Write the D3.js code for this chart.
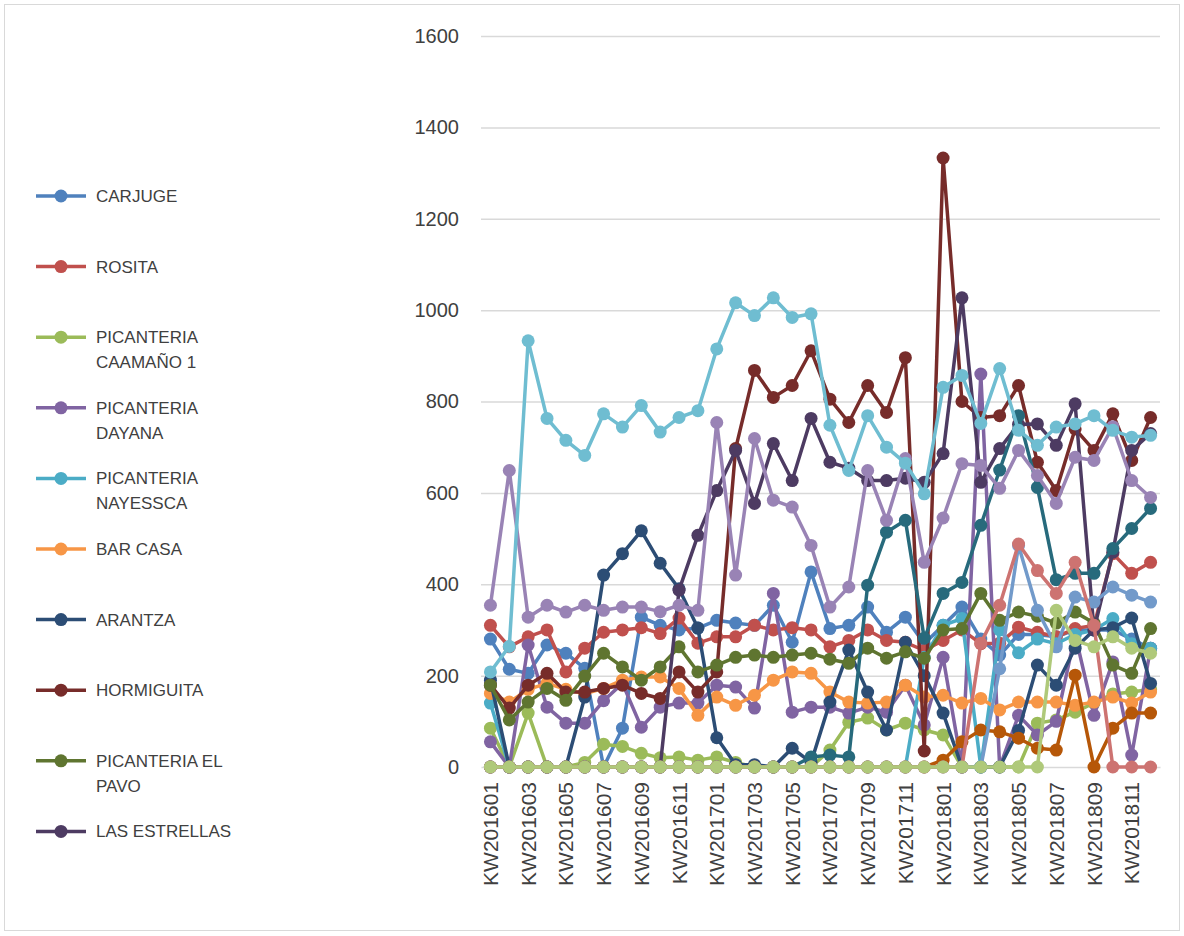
<!DOCTYPE html>
<html>
<head>
<meta charset="utf-8">
<script src="https://cdn.jsdelivr.net/npm/d3@7"></script>
<style>
  html, body { margin: 0; padding: 0; background: #fff; }
  svg { display: block; }
  text { font-family: "Liberation Sans", Arial, sans-serif; fill: #404040; }
</style>
</head>
<body>
<svg id="chart" width="1184" height="936"></svg>
<script>
// Monthly periods (KW + yyyymm)
const periods = [
  "KW201601","KW201602","KW201603","KW201604","KW201605","KW201606",
  "KW201607","KW201608","KW201609","KW201610","KW201611","KW201612",
  "KW201701","KW201702","KW201703","KW201704","KW201705","KW201706",
  "KW201707","KW201708","KW201709","KW201710","KW201711","KW201712",
  "KW201801","KW201802","KW201803","KW201804","KW201805","KW201806",
  "KW201807","KW201808","KW201809","KW201810","KW201811","KW201812"
];
const yTicks = [0, 200, 400, 600, 800, 1000, 1200, 1400, 1600];

// Legend names (in series order)
const legendNames = [
  ["CARJUGE"], ["ROSITA"], ["PICANTERIA", "CAAMAÑO 1"], ["PICANTERIA", "DAYANA"],
  ["PICANTERIA", "NAYESSCA"], ["BAR CASA"], ["ARANTZA"], ["HORMIGUITA"],
  ["PICANTERIA EL", "PAVO"], ["LAS ESTRELLAS"]
];

// Series values
const carjuge      = [280,214,205,267,249,216,0,85,328,310,300,304,321,315,310,354,273,427,303,310,350,295,328,270,310,350,280,245,290,290,285,300,300,300,280,260];
const rosita       = [310,263,285,300,208,260,295,300,305,292,326,271,285,285,310,300,305,300,263,277,300,277,273,255,277,300,270,271,306,295,285,303,310,467,424,448];
const caamano1     = [85,0,118,0,0,10,50,45,30,20,22,15,22,10,0,0,0,0,37,98,107,81,96,81,70,0,0,0,0,96,103,120,140,160,164,170];
const dayana       = [55,0,267,131,96,96,145,183,87,131,140,140,179,175,129,380,120,131,131,118,131,120,179,92,240,0,860,0,113,70,100,290,113,230,26,260];
const nayessca     = [140,0,0,0,0,0,0,0,0,0,0,0,0,0,0,0,0,0,0,0,0,0,0,240,310,325,0,300,250,280,270,290,300,325,270,260];
const barCasa      = [161,142,170,183,170,160,172,190,197,197,172,113,153,135,157,190,208,205,164,142,140,142,179,153,157,140,150,125,142,142,142,135,142,153,140,164];
const arantza      = [190,0,0,0,0,153,420,467,517,446,390,304,64,5,5,0,41,10,142,256,164,81,273,200,118,0,0,0,80,223,179,260,300,305,326,183];
const hormiguita   = [179,129,179,205,164,164,172,179,161,150,208,164,208,697,868,809,835,911,805,754,835,776,896,35,1333,800,765,769,835,667,605,740,693,773,671,765];
const elPavo       = [179,103,142,172,146,199,249,219,190,219,263,208,223,240,245,240,245,249,236,227,260,238,252,238,300,303,380,321,339,330,315,339,315,223,205,303];
const lasEstrellas = [0,0,0,0,0,0,0,0,0,0,387,507,605,693,577,708,627,763,667,654,627,627,632,623,686,1027,623,697,750,751,704,795,300,470,693,730];
const serie11      = [0,0,0,0,0,0,0,0,0,0,0,0,0,0,0,0,0,22,26,22,398,514,540,282,380,404,529,650,769,612,410,424,424,478,522,566];
const serie12      = [0,0,0,0,0,0,0,0,0,0,0,0,0,0,0,0,0,0,0,0,0,0,0,0,15,55,81,77,63,41,37,201,0,85,118,118];
const serie13      = [0,0,0,0,0,0,0,0,0,0,0,0,0,0,0,0,0,0,0,0,0,0,0,0,0,0,0,215,485,343,263,372,361,394,376,361];
const serie14      = [0,0,0,0,0,0,0,0,0,0,0,0,0,0,0,0,0,0,0,0,0,0,0,0,0,0,271,354,488,430,380,448,310,0,0,0];
const serie15      = [0,0,0,0,0,0,0,0,0,0,0,0,0,0,0,0,0,0,0,0,0,0,0,0,0,0,0,0,0,0,343,277,263,285,260,249];
const serie16      = [354,649,328,354,339,354,343,350,350,340,354,343,754,420,719,584,569,485,350,394,649,540,675,448,545,664,660,610,693,638,577,678,671,745,627,590];
const serie17      = [208,264,933,763,715,682,773,744,791,733,765,780,915,1016,988,1027,984,992,748,649,769,700,665,598,831,857,752,872,737,704,744,751,769,737,722,726];

const palette = ["#4F81BD","#C0504D","#9BBB59","#8064A2","#4BACC6","#F79646",
                 "#2C4D75","#772C2A","#5F7530","#4D3B62","#276A7C","#B65708",
                 "#729ACA","#CD7371","#AFC97A","#9983B5","#6FBDD1"];

const seriesValues = [carjuge, rosita, caamano1, dayana, nayessca, barCasa, arantza,
  hormiguita, elPavo, lasEstrellas, serie11, serie12, serie13, serie14, serie15, serie16, serie17];

const svg = d3.select("#chart");

// chart frame
svg.append("rect")
  .attr("x", 4.5).attr("y", 4.5).attr("width", 1175).attr("height", 926)
  .attr("fill", "#fff").attr("stroke", "#d9d9d9").attr("stroke-width", 1);

const plot = { left: 481, right: 1160, top: 36, bottom: 767 };

const x = d3.scaleBand().domain(periods).range([plot.left, plot.right]);
const y = d3.scaleLinear().domain([0, 1600]).range([plot.bottom, plot.top]);

// gridlines
svg.append("g").selectAll("line").data(yTicks.filter(t => t > 0)).join("line")
  .attr("x1", plot.left).attr("x2", plot.right)
  .attr("y1", d => y(d) + 0.5).attr("y2", d => y(d) + 0.5)
  .attr("stroke", "#d9d9d9").attr("stroke-width", 1.5);

// y axis labels
const yAxis = d3.axisLeft(y).tickValues(yTicks).tickFormat(d3.format("d"))
  .tickSize(0).tickPadding(22);
const gy = svg.append("g").attr("transform", `translate(${plot.left},0)`).call(yAxis);
gy.select(".domain").remove();
gy.selectAll("text").attr("font-size", 20).attr("fill", "#404040")
  .style("font-family", "'Liberation Sans', Arial, sans-serif");

// x axis
const xAxis = d3.axisBottom(x).tickValues(periods.filter((p, i) => i % 2 === 0)).tickSize(0);
const gx = svg.append("g").attr("transform", `translate(0,${plot.bottom})`).call(xAxis);
gx.select(".domain").attr("stroke", "#d9d9d9").attr("stroke-width", 1.5);
gx.selectAll("text")
  .attr("font-size", 21).attr("fill", "#404040")
  .style("font-family", "'Liberation Sans', Arial, sans-serif")
  .attr("text-anchor", "end")
  .attr("transform", "rotate(-90)")
  .attr("x", -15).attr("y", 0).attr("dy", "0.36em");

// series lines and markers
const line = d3.line()
  .x((d, i) => x(periods[i]) + x.bandwidth() / 2)
  .y(d => y(d));

seriesValues.forEach((vals, s) => {
  const g = svg.append("g");
  g.append("path").datum(vals)
    .attr("d", line).attr("fill", "none")
    .attr("stroke", palette[s]).attr("stroke-width", 3.5)
    .attr("stroke-linejoin", "round");
  g.selectAll("circle").data(vals).join("circle")
    .attr("cx", (d, i) => x(periods[i]) + x.bandwidth() / 2)
    .attr("cy", d => y(d))
    .attr("r", 6.5)
    .attr("fill", palette[s]);
});

// legend
const legend = svg.append("g");
legendNames.forEach((lines, i) => {
  const ly = 196 + i * 70.6;
  const item = legend.append("g").attr("transform", `translate(0,${ly})`);
  item.append("line").attr("x1", 36).attr("x2", 86).attr("y1", 0).attr("y2", 0)
    .attr("stroke", palette[i]).attr("stroke-width", 3.5);
  item.append("circle").attr("cx", 61).attr("cy", 0).attr("r", 6.5).attr("fill", palette[i]);
  lines.forEach((t, k) => {
    item.append("text").attr("x", 96).attr("y", k * 25 + 6)
      .attr("font-size", 17).text(t);
  });
});
</script>
</body>
</html>
